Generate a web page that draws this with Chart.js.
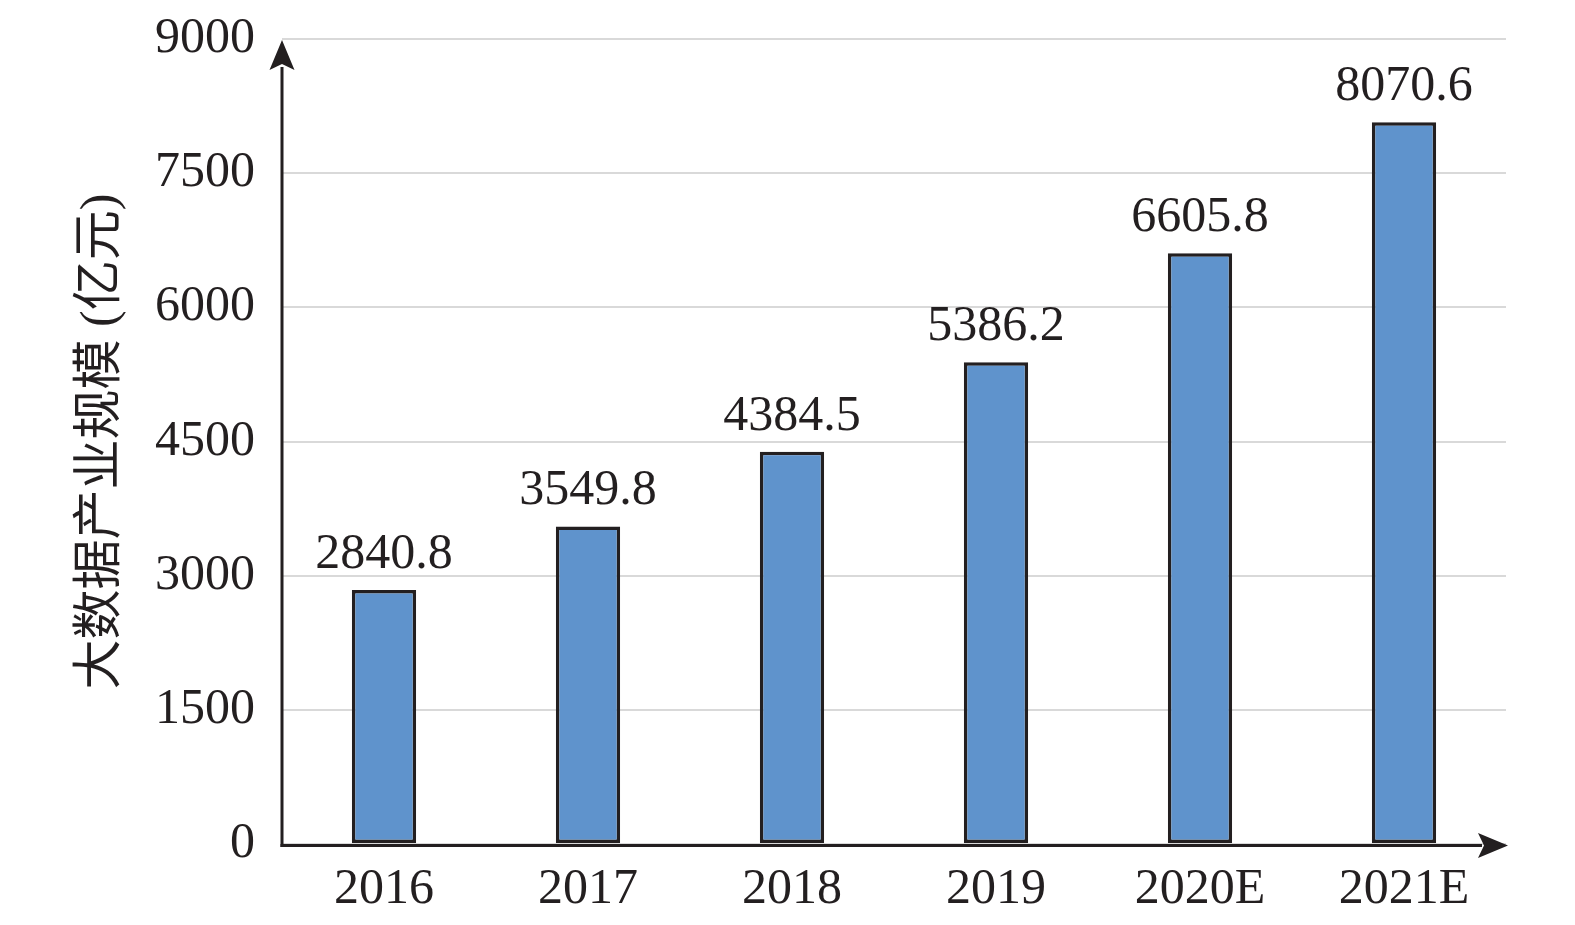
<!DOCTYPE html>
<html>
<head>
<meta charset="utf-8">
<script src="https://cdn.jsdelivr.net/npm/chart.js@4/dist/chart.umd.min.js"></script>
<style>
html,body{margin:0;padding:0;background:#fff;}
#wrap{width:1575px;height:925px;position:relative;}
</style>
</head>
<body>
<div id="wrap"><canvas id="c" width="1575" height="925"></canvas></div>
<script>
const categories = ["2016", "2017", "2018", "2019", "2020E", "2021E"];
const values = [2840.8, 3549.8, 4384.5, 5386.2, 6605.8, 8070.6];
const valueLabels = ["2840.8", "3549.8", "4384.5", "5386.2", "6605.8", "8070.6"];
const yTitle = "大数据产业规模 (亿元)";
const yMin = 0, yMax = 9000, yStep = 1500;

const FONT = '"Liberation Serif", "Times New Roman", "Noto Sans CJK SC", serif';
const INK = '#231f20';

const overlay = {
  id: 'overlay',
  afterDatasetsDraw(chart) {
    const ctx = chart.ctx;
    const a = chart.chartArea;
    const x0 = a.left;
    const yAxis = a.bottom + 1.5;
    ctx.save();
    ctx.strokeStyle = INK;
    ctx.fillStyle = INK;
    ctx.lineWidth = 3;
    // y axis
    ctx.beginPath();
    ctx.moveTo(x0, yAxis + 1.5);
    ctx.lineTo(x0, a.top + 28);
    ctx.stroke();
    ctx.beginPath();
    ctx.moveTo(x0, a.top + 1);
    ctx.lineTo(x0 + 12.5, a.top + 31);
    ctx.lineTo(x0, a.top + 25);
    ctx.lineTo(x0 - 12.5, a.top + 31);
    ctx.closePath();
    ctx.fill();
    // x axis
    const xe = a.right + 2;
    ctx.beginPath();
    ctx.moveTo(x0 - 1.5, yAxis);
    ctx.lineTo(xe - 26, yAxis);
    ctx.stroke();
    ctx.beginPath();
    ctx.moveTo(xe, yAxis);
    ctx.lineTo(xe - 30, yAxis + 12.5);
    ctx.lineTo(xe - 24, yAxis);
    ctx.lineTo(xe - 30, yAxis - 12.5);
    ctx.closePath();
    ctx.fill();
    // data labels
    const meta = chart.getDatasetMeta(0);
    ctx.font = '50px ' + FONT;
    ctx.textAlign = 'center';
    ctx.textBaseline = 'alphabetic';
    meta.data.forEach((bar, i) => {
      ctx.fillText(valueLabels[i], bar.x, bar.y - 22);
    });
    ctx.restore();
  }
};

new Chart(document.getElementById('c'), {
  type: 'bar',
  data: {
    labels: categories,
    datasets: [{
      data: values,
      backgroundColor: '#5f93cc',
      borderColor: INK,
      borderWidth: 3.5,
      borderSkipped: false,
      categoryPercentage: 1,
      barPercentage: 0.315
    }]
  },
  options: {
    responsive: false,
    animation: false,
    devicePixelRatio: 1,
    layout: { padding: { left: 0, right: 69, top: 39, bottom: 0 } },
    plugins: { legend: { display: false }, tooltip: { enabled: false } },
    scales: {
      x: {
        grid: { display: false, drawTicks: false },
        border: { display: false },
        ticks: { color: INK, font: { family: FONT, size: 50 }, padding: 16 },
        afterFit(s) { s.height = 81; s.paddingLeft = 0; s.paddingRight = 0; }
      },
      y: {
        min: yMin, max: yMax,
        grid: { color: '#d9d9d9', lineWidth: 2, drawTicks: false },
        border: { display: false },
        ticks: { stepSize: yStep, color: INK, font: { family: FONT, size: 50 }, padding: 27,
                 callback: (v) => String(v) },
        title: {
          display: true, text: yTitle, color: INK,
          font: { family: FONT, size: 50 },
          padding: { top: 72, bottom: 0 }
        },
        afterFit(s) { s.width = 282; s.paddingTop = 0; s.paddingBottom = 0; }
      }
    }
  },
  plugins: [overlay]
});
</script>
</body>
</html>
